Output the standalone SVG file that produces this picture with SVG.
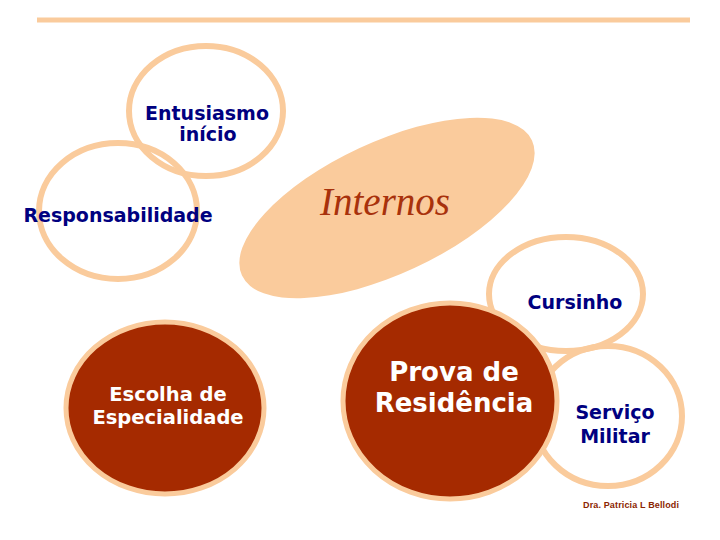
<svg xmlns="http://www.w3.org/2000/svg" width="720" height="540" viewBox="0 0 720 540">
<style>
.ring{fill:none;stroke:#FACB9C;stroke-width:6}
.disc{fill:#A52A00;stroke:#FACB9C;stroke-width:5}
.lbl{font-family:"DejaVu Sans",Verdana,sans-serif;font-weight:bold;fill:#000080;font-size:19px;text-anchor:middle}
.wlbl{font-family:"DejaVu Sans",Verdana,sans-serif;font-weight:bold;fill:#FFFFFF;text-anchor:middle}
</style>
<rect width="720" height="540" fill="#FFFFFF"/>
<rect x="37" y="17.5" width="653" height="5" fill="#FACB9C"/>
<g id="entusiasmo">
<ellipse class="ring" cx="206" cy="111" rx="77" ry="65"/>
<text class="lbl" x="207" y="120">Entusiasmo</text>
<text class="lbl" x="208" y="141">início</text>
</g>
<g id="responsabilidade">
<ellipse class="ring" cx="118" cy="211" rx="79" ry="68"/>
<text class="lbl" x="118" y="222">Responsabilidade</text>
</g>
<g id="internos">
<ellipse cx="387" cy="208" rx="160" ry="66" fill="#FACB9C" transform="rotate(-25 387 208)"/>
<text x="385" y="215" font-family="Liberation Serif,Times New Roman,serif" font-style="italic" font-size="39" fill="#A8320C" text-anchor="middle">Internos</text>
</g>
<g id="cursinho">
<ellipse class="ring" cx="566" cy="294" rx="77" ry="57"/>
<text class="lbl" x="575" y="309">Cursinho</text>
</g>
<g id="servico">
<ellipse class="ring" cx="608" cy="416" rx="74" ry="70"/>
</g>
<g id="prova">
<ellipse class="disc" cx="450" cy="401" rx="107" ry="98"/>
<text class="wlbl" x="454" y="381" font-size="26">Prova de</text>
<text class="wlbl" x="454" y="412" font-size="26">Residência</text>
</g>
<g id="servico-label">
<text class="lbl" x="615" y="419">Serviço</text>
<text class="lbl" x="615" y="443">Militar</text>
</g>
<g id="escolha">
<ellipse class="disc" cx="165" cy="408" rx="99" ry="86"/>
<text class="wlbl" x="168" y="401" font-size="19.5">Escolha de</text>
<text class="wlbl" x="168" y="424" font-size="19.5">Especialidade</text>
</g>
<g id="connectors"></g>
<text x="631" y="508" font-family="Liberation Sans,Arial,sans-serif" font-weight="bold" font-size="9" fill="#8B2500" text-anchor="middle" textLength="96" lengthAdjust="spacing">Dra. Patricia L Bellodi</text>
</svg>
